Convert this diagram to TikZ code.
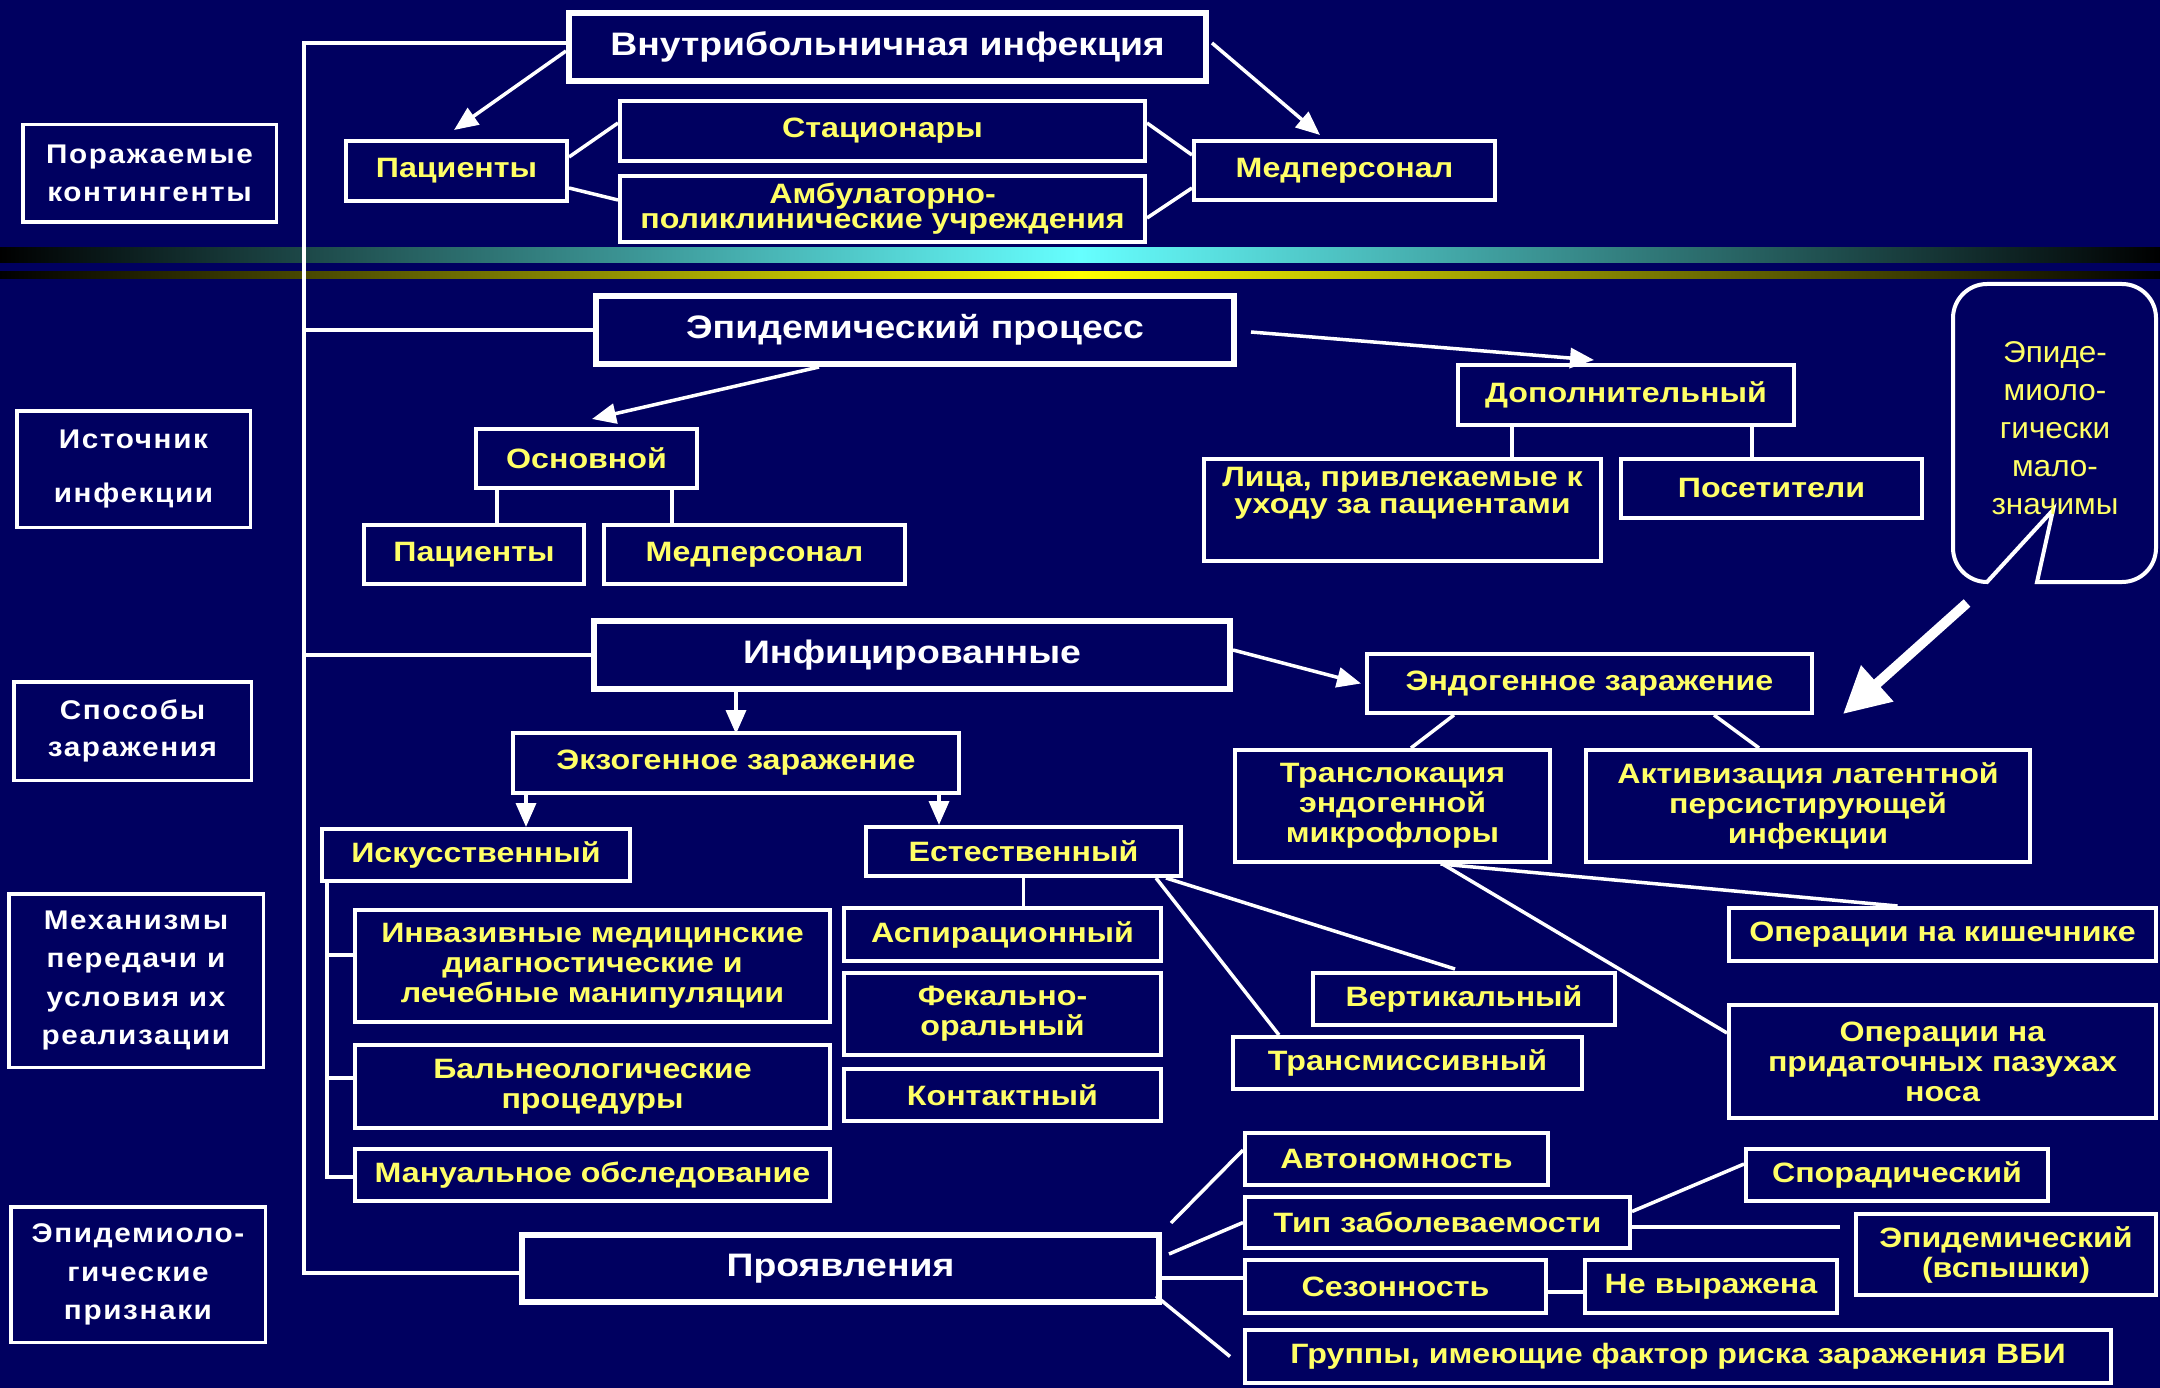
\documentclass[tikz,border=0pt]{standalone}
\usepackage{fontspec}
\setmainfont{Liberation Sans}
\newfontfamily\bxf{Liberation Sans}[FakeStretch=1.15]
\newfontfamily\lbf{Liberation Sans}[FakeStretch=1.1,LetterSpace=6]
\newfontfamily\cof{Liberation Sans}[FakeStretch=1.05]
\usetikzlibrary{arrows.meta}
\definecolor{bgnavy}{HTML}{000060}
\definecolor{yel}{HTML}{FFFF66}
\definecolor{cyanband}{HTML}{66FFFF}
\definecolor{yelband}{HTML}{FFFF00}
\begin{document}
\begin{tikzpicture}[x=1pt,y=-1pt,
  ybox/.style={draw=white, line width=4pt, text=yel, align=center, inner sep=0pt,
    font=\bxf\bfseries\fontsize{28}{30}\selectfont},
  wbox/.style={draw=white, line width=6pt, text=white, align=center, inner sep=0pt,
    font=\bxf\bfseries\fontsize{32.5}{36}\selectfont},
  lbox/.style={draw=white, line width=3.5pt, text=white, align=center, inner sep=0pt,
    font=\lbf\bfseries\fontsize{27}{38.6}\selectfont},
  ln/.style={draw=white, line width=3.5pt},
  arr/.style={ln, -{Triangle[length=24pt,width=20pt]}},
  bigarr/.style={draw=white, line width=10pt, -{Triangle[length=46pt,width=46pt]}},
]
\fill[bgnavy] (0,0) rectangle (2160,1388);
\useasboundingbox (0,0) rectangle (2160,1388);
\shade[left color=black,right color=black,middle color=cyanband] (0,248) rectangle (2160,263);
\shade[left color=black,right color=black,middle color=yelband] (0,272) rectangle (2160,279);

% left labels
\node[lbox, minimum width=253.5pt, minimum height=97.5pt] (porazh) at (149.5,173.5) {Поражаемые\\контингенты};
\node[lbox, minimum width=233.5pt, minimum height=116.5pt] (ist) at (133.5,469) {Источник\\[16pt]инфекции};
\node[lbox, minimum width=237.5pt, minimum height=98.5pt] (sposob) at (132.5,731) {Способы\\[-1.6pt]заражения};
\node[lbox, minimum width=254.5pt, minimum height=173.5pt] (mech) at (136,980.5) {Механизмы\\передачи и\\условия их\\реализации};
\node[lbox, minimum width=254.5pt, minimum height=135.5pt] (prz) at (138,1274.5) {Эпидемиоло-\\гические\\признаки};

% top block
\node[wbox, minimum width=637pt, minimum height=68pt] (top) at (887.5,47) {Внутрибольничная инфекция};
\node[ybox, minimum width=221pt, minimum height=60pt] (pac1) at (456.5,171) {Пациенты};
\node[ybox, minimum width=525pt, minimum height=60pt] (stac) at (882.5,131) {Стационары};
\node[ybox, minimum width=525pt, minimum height=66pt, font=\bxf\bfseries\fontsize{28}{25}\selectfont] (amb) at (882.5,209) {Амбулаторно-\\поликлинические учреждения};
\node[ybox, minimum width=301pt, minimum height=59pt] (med1) at (1344.5,170.5) {Медперсонал};

% epidemic process block
\node[wbox, minimum width=638pt, minimum height=68pt] (epi) at (915,330) {Эпидемический процесс};
\node[ybox, minimum width=221pt, minimum height=59pt] (osn) at (586.5,458.5) {Основной};
\node[ybox, minimum width=220pt, minimum height=59pt] (pac2) at (474,554.5) {Пациенты};
\node[ybox, minimum width=301pt, minimum height=59pt] (med2) at (754.5,554.5) {Медперсонал};
\node[ybox, minimum width=336pt, minimum height=60pt] (dop) at (1626,395) {Дополнительный};
\node[ybox, minimum width=397pt, minimum height=102pt, font=\bxf\bfseries\fontsize{28}{27}\selectfont] (lica) at (1402.5,510) {Лица, привлекаемые к\\уходу за пациентами\\[12pt]~};
\node[ybox, minimum width=301pt, minimum height=59pt] (pos) at (1771.5,488.5) {Посетители};

% callout
\draw[white, line width=4pt] (2037,582) -- (2122,582)
  arc[start angle=270, end angle=360, radius=34pt] -- (2156,318)
  arc[start angle=0, end angle=90, radius=34pt] -- (1987,284)
  arc[start angle=90, end angle=180, radius=34pt] -- (1953,548)
  arc[start angle=180, end angle=270, radius=34pt] -- (2053,510) -- cycle;
\node[text=yel, align=center, inner sep=0pt, font=\cof\fontsize{30}{38}\selectfont] (callout) at (2055,428) {Эпиде-\\миоло-\\гически\\мало-\\значимы};

% infected block
\node[wbox, minimum width=636pt, minimum height=68pt] (inf) at (912,655) {Инфицированные};
\node[ybox, minimum width=445pt, minimum height=59pt] (endo) at (1589.5,683.5) {Эндогенное заражение};
\node[ybox, minimum width=446pt, minimum height=60pt] (exo) at (736,763) {Экзогенное заражение};
\node[ybox, minimum width=315pt, minimum height=112pt] (transl) at (1392.5,806) {Транслокация\\эндогенной\\микрофлоры};
\node[ybox, minimum width=444pt, minimum height=112pt] (activ) at (1808,806) {Активизация латентной\\персистирующей\\инфекции};
\node[ybox, minimum width=308pt, minimum height=52pt] (isk) at (476,855) {Искусственный};
\node[ybox, minimum width=315pt, minimum height=49pt] (est) at (1023.5,851.5) {Естественный};
\node[ybox, minimum width=475pt, minimum height=112pt] (inv) at (592.5,966) {Инвазивные медицинские\\диагностические и\\лечебные манипуляции};
\node[ybox, minimum width=317pt, minimum height=53pt] (asp) at (1002.5,934.5) {Аспирационный};
\node[ybox, minimum width=427pt, minimum height=53pt] (kish) at (1942.5,934.5) {Операции на кишечнике};
\node[ybox, minimum width=302pt, minimum height=52pt] (vert) at (1464,999) {Вертикальный};
\node[ybox, minimum width=317pt, minimum height=82pt] (fek) at (1002.5,1014) {Фекально-\\оральный};
\node[ybox, minimum width=427pt, minimum height=113pt] (nose) at (1942.5,1061.5) {Операции на\\придаточных пазухах\\носа};
\node[ybox, minimum width=349pt, minimum height=52pt] (trans) at (1407.5,1063) {Трансмиссивный};
\node[ybox, minimum width=475pt, minimum height=83pt] (baln) at (592.5,1086.5) {Бальнеологические\\процедуры};
\node[ybox, minimum width=317pt, minimum height=52pt] (kont) at (1002.5,1095) {Контактный};
\node[ybox, minimum width=475pt, minimum height=52pt] (man) at (592.5,1175) {Мануальное обследование};

% manifestations block
\node[wbox, minimum width=637pt, minimum height=67pt] (proy) at (840.5,1268.5) {Проявления};
\node[ybox, minimum width=303pt, minimum height=52pt] (avto) at (1396.5,1159) {Автономность};
\node[ybox, minimum width=385pt, minimum height=51pt] (tip) at (1437.5,1222.5) {Тип заболеваемости};
\node[ybox, minimum width=302pt, minimum height=52pt] (spor) at (1897,1175) {Спорадический};
\node[ybox, minimum width=300pt, minimum height=81pt] (epid) at (2006,1254.5) {Эпидемический\\(вспышки)};
\node[ybox, minimum width=301pt, minimum height=53pt] (sez) at (1395.5,1286.5) {Сезонность};
\node[ybox, minimum width=252pt, minimum height=53pt] (nevyr) at (1711,1286.5) {Не выражена};
\node[ybox, minimum width=866pt, minimum height=53pt] (grp) at (1678,1356.5) {Группы, имеющие фактор риска заражения ВБИ};

% bus
\coordinate (busT) at (304,43);
\coordinate (busB) at (304,1273);
\draw[ln, line width=4pt] ([yshift=4pt]top.west) -- (busT) -- (busB) -- ([yshift=-4.5pt]proy.west);
\draw[ln, line width=4pt] (busT |- epi.west) -- (epi.west);
\draw[ln, line width=4pt] (busT |- inf.west) -- (inf.west);

% top connectors
\draw[arr] ([yshift=-4pt]top.west) -- ([xshift=-2.5pt,yshift=9pt]pac1.north);
\draw[arr] ([xshift=3pt,yshift=4pt]top.east) -- ([xshift=-24.5pt,yshift=4pt]med1.north);
\draw[ln] ([yshift=14pt]pac1.east) -- ([yshift=8pt]stac.west);
\draw[ln] ([yshift=-17pt]pac1.east) -- ([yshift=9pt]amb.west);
\draw[ln] ([yshift=8pt]stac.east) -- ([yshift=15.5pt]med1.west);
\draw[ln] ([yshift=-9pt]amb.east) -- ([yshift=-17.5pt]med1.west);

% epidemic process connectors
\draw[arr] ([xshift=-96pt]epi.south) -- ([xshift=5.5pt,yshift=8pt]osn.north);
\draw[arr] ([xshift=14pt,yshift=-2pt]epi.east) -- ([xshift=-32pt,yshift=3pt]dop.north);
\coordinate (xa) at (497,0);
\coordinate (xb) at (672,0);
\coordinate (xc) at (1512,0);
\coordinate (xd) at (1752,0);
\draw[ln] (osn.south -| xa) -- (pac2.north -| xa);
\draw[ln] (osn.south -| xb) -- (med2.north -| xb);
\draw[ln] (dop.south -| xc) -- (lica.north -| xc);
\draw[ln] (dop.south -| xd) -- (pos.north -| xd);

% infected connectors
\draw[arr] ([yshift=5pt]inf.east) -- ([xshift=-4pt]endo.west);
\draw[arr] (inf.south -| exo.north) -- ([yshift=-3pt]exo.north);
\coordinate (xe) at (526,0);
\coordinate (xf) at (939,0);
\draw[arr] (exo.south -| xe) -- (isk.north -| xe);
\draw[arr] (exo.south -| xf) -- (est.north -| xf);
\draw[ln] ([xshift=-135.5pt]endo.south) -- ([xshift=18.5pt]transl.north);
\draw[ln] ([xshift=124.5pt]endo.south) -- ([xshift=-49pt]activ.north);
\coordinate (bigS) at (1967,603);
\coordinate (bigE) at (1843,714);
\draw[bigarr] (bigS) -- (bigE);

% natural / artificial
\draw[ln] (est.south) -- (asp.north -| est.south);
\draw[ln] ([xshift=-17pt]est.south east) -- ([xshift=-9pt,yshift=2pt]vert.north);
\draw[ln] ([xshift=-27pt]est.south east) -- ([xshift=48pt]trans.north west);
\coordinate (xg) at (327,0);
\draw[ln] (isk.south -| xg) |- ([yshift=11pt]inv.west);
\draw[ln] (isk.south -| xg) |- ([yshift=8.5pt]baln.west);
\draw[ln] (isk.south -| xg) |- ([yshift=-2pt]man.west);
\draw[ln] ([xshift=48pt]transl.south) -- ([xshift=-45pt]kish.north);
\draw[ln] ([xshift=50pt]transl.south) -- ([yshift=-30pt]nose.north west);

% manifestations
\draw[ln] ([xshift=9pt,yshift=9pt]proy.north east) -- ([yshift=9pt]avto.west);
\draw[ln] ([xshift=7pt,yshift=14.5pt]proy.east) -- (tip.west);
\draw[ln] ([yshift=-9.5pt]proy.east) -- ([yshift=8.5pt]sez.west);
\draw[ln] ([xshift=-6pt,yshift=9pt]proy.south east) -- ([xshift=-13pt]grp.west);
\draw[ln] ([yshift=11pt]tip.east) -- ([yshift=11pt]spor.west);
\draw[ln] ([yshift=-4.5pt]tip.east) -- ([xshift=-14pt,yshift=27.5pt]epid.west);
\draw[ln] ([yshift=-5.5pt]sez.east) -- ([yshift=-5.5pt]nevyr.west);
\end{tikzpicture}
\end{document}
